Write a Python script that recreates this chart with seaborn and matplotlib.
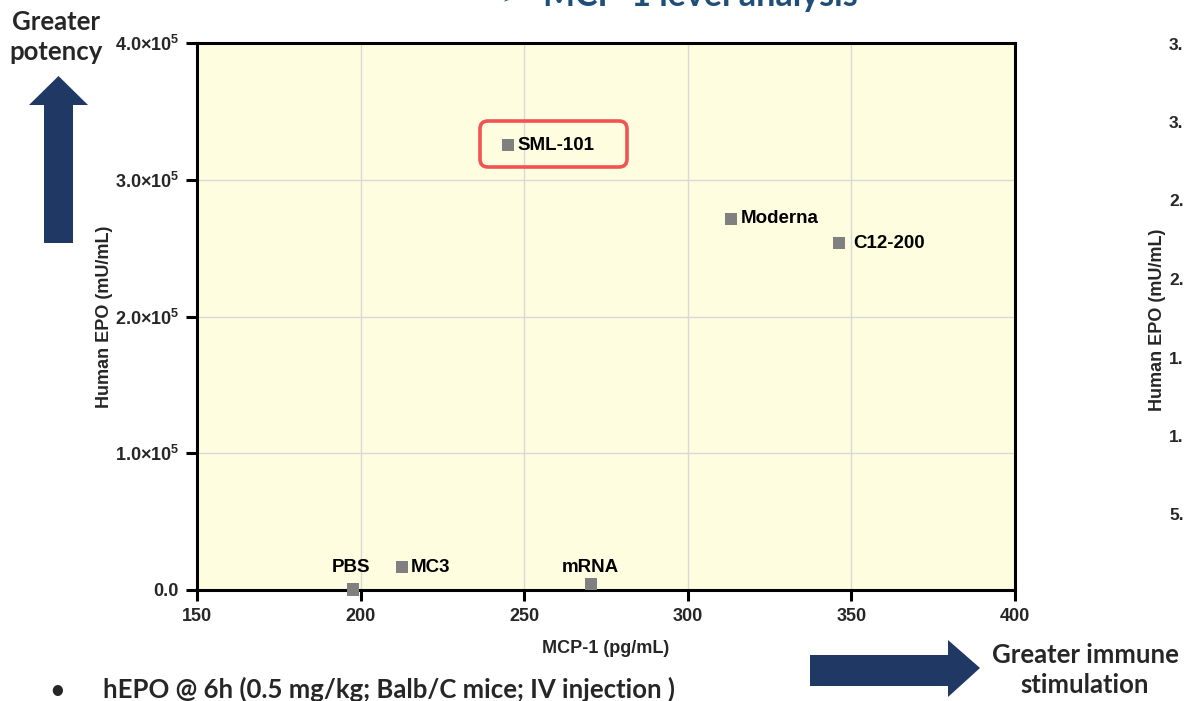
import numpy as np
import pandas as pd
import matplotlib
matplotlib.use('Agg')
import matplotlib.pyplot as plt
import seaborn as sns
from matplotlib.patches import FancyBboxPatch, Polygon
from matplotlib.ticker import MultipleLocator, FixedLocator

# data
groups = ['SML-101', 'Moderna', 'C12-200', 'PBS', 'MC3', 'mRNA']
mcp1 = [245.0, 313.2, 346.2, 197.7, 212.7, 270.4]          # pg/mL
hepo = [325400, 271300, 253700, 500, 16800, 4400]           # mU/mL
y_ticks = [0, 100000, 200000, 300000, 400000]
y_ticklabels = ['0.0', r'$\mathbf{1.0{\times}10^5}$', r'$\mathbf{2.0{\times}10^5}$',
                r'$\mathbf{3.0{\times}10^5}$', r'$\mathbf{4.0{\times}10^5}$']
right_ticklabels = ['3.', '3.', '2.', '2.', '1.', '1.', '5.']

df = pd.DataFrame({'group': groups, 'mcp1': mcp1, 'hepo': hepo})

sns.set_style('white')
plt.rcParams['font.family'] = ['Liberation Sans', 'DejaVu Sans']
plt.rcParams['mathtext.fontset'] = 'custom'
plt.rcParams['mathtext.rm'] = 'Liberation Sans'
plt.rcParams['mathtext.bf'] = 'Liberation Sans:bold'

W, H = 1187, 701
fig = plt.figure(figsize=(W / 100, H / 100), dpi=100)
ax = fig.add_axes([197 / W, (H - 590) / H, (1015 - 197) / W, (590 - 43) / H])
ax.set_facecolor('#FEFDE0')

sns.scatterplot(data=df, x='mcp1', y='hepo', marker='s', s=80, color='#808080',
                edgecolor='none', ax=ax, clip_on=False, zorder=3)

# label offsets in pixels (dx, dy, ha, va)
offsets = {
    'SML-101': (10, 0, 'left', 'center'),
    'Moderna': (10, 0, 'left', 'center'),
    'C12-200': (14, 0, 'left', 'center'),
    'PBS': (-2, 22, 'center', 'center'),
    'MC3': (9, 0, 'left', 'center'),
    'mRNA': (-1, 16, 'center', 'center'),
}
for g, x, y in zip(groups, mcp1, hepo):
    dx, dy, ha, va = offsets[g]
    ax.annotate(g, (x, y), xytext=(dx, dy), textcoords='offset pixels',
                ha=ha, va=va, fontsize=13.5, fontweight='bold', color='black')

ax.set_xlim(150, 400)
ax.set_ylim(0, 400000)
ax.xaxis.set_major_locator(MultipleLocator(50))
ax.xaxis.set_minor_locator(MultipleLocator(5))
ax.yaxis.set_major_locator(FixedLocator(y_ticks))
ax.set_yticklabels(y_ticklabels)
ax.tick_params(axis='both', which='major', direction='out', length=8, width=2.2,
               labelsize=13, color='black', pad=5)
ax.tick_params(axis='x', which='minor', direction='out', length=6, width=2, color='black')
ax.tick_params(left=True, bottom=True)
for lab in ax.get_xticklabels() + ax.get_yticklabels():
    lab.set_fontweight('bold')
ax.grid(True, which='major', color='#d9d9d9', linewidth=1)
ax.set_axisbelow(True)
for sp in ax.spines.values():
    sp.set_linewidth(2.2)
    sp.set_color('black')

ax.set_xlabel('MCP-1 (pg/mL)', fontsize=13, fontweight='bold', labelpad=11)
ax.set_ylabel('Human EPO (mU/mL)', fontsize=13, fontweight='bold', labelpad=1)


def px(x, y):
    return (x / 100, (H - y) / 100)


tr = fig.dpi_scale_trans
navy = '#203864'

# red box around SML-101
x0, y0 = px(480, 167)
fig.add_artist(FancyBboxPatch((x0, y0), 1.47, 0.46, boxstyle='round,pad=0,rounding_size=0.08',
                              transform=tr, facecolor='none', edgecolor='#F15353', linewidth=2.6))

# arrows
up = [px(44, 243), px(73, 243), px(73, 105), px(88, 105), px(58.5, 76), px(29, 105), px(44, 105)]
fig.add_artist(Polygon(up, closed=True, transform=tr, facecolor=navy, edgecolor='none'))
right = [px(810, 655), px(948, 655), px(948, 640), px(980, 668), px(948, 697), px(948, 686), px(810, 686)]
fig.add_artist(Polygon(right, closed=True, transform=tr, facecolor=navy, edgecolor='none'))

slide = ['Lato', 'DejaVu Sans']
fig.text(56 / W, 1 - 37 / H, 'Greater\npotency', ha='center', va='center', fontsize=18.5,
         fontweight='bold', family=slide, linespacing=1.3)
fig.text(1085 / W, 1 - 670 / H, 'Greater immune\nstimulation', ha='center', va='center',
         fontsize=18.5, fontweight='bold', family=slide, linespacing=1.3)
fig.text(57 / W, 1 - 690 / H, '•', ha='center', va='center', fontsize=17,
         fontweight='bold', family=slide)
fig.text(103 / W, 1 - 689 / H, 'hEPO @ 6h (0.5 mg/kg; Balb/C mice; IV injection )', ha='left',
         va='center', fontsize=18.5, fontweight='bold', family=slide)
fig.text(500 / W, 1 - (-4) / H, '➢', ha='left', va='center', fontsize=18,
         color='#1F4E79', family=['DejaVu Sans'])
fig.text(543 / W, 1 - (-4) / H, 'MCP-1 level analysis', ha='left', va='center', fontsize=24.5,
         fontweight='bold', color='#1F4E79', family=slide)

# edge of the neighbouring chart on the slide
fig.text(1158 / W, 1 - 320 / H, 'Human EPO (mU/mL)', rotation=90, ha='center', va='center',
         fontsize=13, fontweight='bold')
for i, t in enumerate(right_ticklabels):
    fig.text(1169 / W, 1 - (45 + i * 78.5) / H, t, ha='left', va='center', fontsize=12.5,
             fontweight='bold')

fig.savefig('out.png', dpi=100)
